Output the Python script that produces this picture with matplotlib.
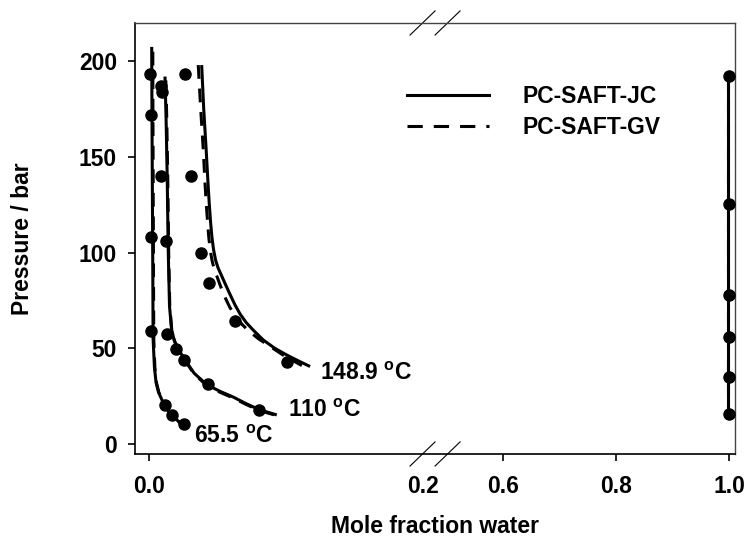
import numpy as np
import matplotlib
matplotlib.use("Agg")
import matplotlib.pyplot as plt
from matplotlib.lines import Line2D
from matplotlib.scale import FuncScale

# ---- fonts: bold Arial look-alike everywhere, also inside mathtext ----
plt.rcParams["font.family"] = ["Liberation Sans", "DejaVu Sans"]
plt.rcParams["font.weight"] = "bold"
plt.rcParams["axes.labelweight"] = "bold"
plt.rcParams["font.size"] = 16.5
plt.rcParams["mathtext.fontset"] = "custom"
plt.rcParams["mathtext.rm"] = "Liberation Sans:bold"
plt.rcParams["mathtext.it"] = "Liberation Sans:bold"
plt.rcParams["mathtext.bf"] = "Liberation Sans:bold"

# ---- experimental points (mole fraction water, pressure / bar) ----
x_exp_655 = [0.0007, 0.0015, 0.0015, 0.0015, 0.0117, 0.0166, 0.0258]
p_exp_655 = [193.6, 171.8, 108.0, 59.2, 20.4, 15.1, 10.4]

x_exp_110 = [0.0085, 0.0092, 0.0088, 0.0124, 0.0129, 0.0195, 0.0258, 0.0429, 0.0804]
p_exp_110 = [187.0, 184.0, 140.0, 106.0, 57.3, 49.6, 43.9, 31.2, 17.8]

x_exp_149 = [0.0263, 0.0305, 0.0380, 0.0440, 0.0630, 0.1007]
p_exp_149 = [193.6, 140.0, 99.6, 84.2, 64.4, 43.0]

x_exp_water = [1.0, 1.0, 1.0, 1.0, 1.0, 1.0]
p_exp_water = [192.5, 125.3, 77.8, 56.0, 35.0, 15.5]

# ---- PC-SAFT-JC (solid) ----
x_jc_655 = [0.0020, 0.0022, 0.0025, 0.0028, 0.0030, 0.0040, 0.0052, 0.0070,
            0.0095, 0.0117, 0.0166, 0.0210, 0.0262]
p_jc_655 = [207.5, 170.0, 130.0, 90.0, 55.0, 40.0, 32.0, 27.0,
            23.0, 20.3, 15.2, 12.2, 9.0]

x_jc_110 = [0.0117, 0.0125, 0.0133, 0.0141, 0.0150, 0.0165, 0.0185, 0.0210,
            0.0263, 0.0330, 0.0422, 0.0520, 0.0617, 0.0712, 0.0812, 0.0934]
p_jc_110 = [192.0, 170.0, 140.0, 100.0, 72.0, 60.0, 54.0, 50.0,
            44.0, 37.0, 31.0, 27.5, 24.5, 21.0, 17.8, 15.2]

x_jc_149 = [0.0385, 0.0400, 0.0418, 0.0430, 0.0440, 0.0450, 0.0460, 0.0472,
            0.0487, 0.0505, 0.0527, 0.0555, 0.0590, 0.0630, 0.0665, 0.0710,
            0.0762, 0.0836, 0.0920, 0.1007, 0.1090, 0.1177]
p_jc_149 = [198.0, 175.0, 153.5, 138.0, 126.0, 116.0, 108.0, 101.5,
            96.0, 92.0, 88.5, 84.0, 78.5, 72.5, 68.0, 63.5,
            59.5, 54.3, 50.0, 46.5, 43.5, 40.5]

x_jc_water = [0.999, 0.999]
p_jc_water = [192.5, 15.5]

# ---- PC-SAFT-GV (dashed) ----
x_gv_655 = [0.0028, 0.0029, 0.0031, 0.0033, 0.0035, 0.0043, 0.0055, 0.0072,
            0.0096, 0.0117, 0.0166, 0.0210, 0.0262]
p_gv_655 = [205.0, 170.0, 130.0, 90.0, 55.0, 40.0, 32.0, 27.0,
            23.0, 20.1, 15.0, 12.0, 8.8]

x_gv_110 = [0.0123, 0.0130, 0.0137, 0.0144, 0.0152, 0.0166, 0.0186, 0.0210,
            0.0263, 0.0330, 0.0422, 0.0520, 0.0617, 0.0712, 0.0812, 0.0930]
p_gv_110 = [190.0, 170.0, 140.0, 100.0, 72.0, 60.0, 54.0, 49.6,
            43.6, 36.6, 30.6, 27.0, 24.0, 20.6, 17.4, 14.9]

x_gv_149 = [0.0360, 0.0378, 0.0397, 0.0408, 0.0418, 0.0428, 0.0437, 0.0448,
            0.0462, 0.0478, 0.0497, 0.0520, 0.0550, 0.0590, 0.0630, 0.0680,
            0.0730, 0.0800, 0.0885, 0.0990, 0.1117]
p_gv_149 = [198.0, 175.0, 153.5, 138.0, 126.0, 116.0, 108.0, 101.0,
            95.5, 91.0, 87.5, 83.0, 77.5, 71.5, 67.0, 62.5,
            59.0, 55.0, 51.0, 46.0, 41.0]

x_gv_water = [0.999, 0.999]
p_gv_water = [192.5, 15.5]

temp_labels = ["65.5 $^{o}$C", "110 $^{o}$C", "148.9 $^{o}$C"]
temp_label_x = [0.0331, 0.1019, 0.1253]
temp_label_p = [0.5, 14.3, 33.4]

# ---- broken x axis: 0..0.209 then 0.48..1.01, right part compressed ----
XB0, XB1, K = 0.209, 0.48, 0.413


def fwd(x):
    x = np.asarray(x, dtype=float)
    return np.where(x <= XB0, x, np.where(x >= XB1, XB0 + (x - XB1) * K, XB0))


def inv(y):
    y = np.asarray(y, dtype=float)
    return np.where(y <= XB0, y, XB1 + (y - XB0) / K)


fig = plt.figure(figsize=(7.48, 5.37), dpi=100)
ax = fig.add_axes([0.1805, 0.1546, 0.8021, 0.8026])
ax.set_xscale(FuncScale(ax, (fwd, inv)))
ax.set_xlim(-0.0102, 1.0106)
ax.set_ylim(-5.2, 220)

lw = 2.2
dash = (4.5, 3.2)
curves = [(x_jc_655, p_jc_655, x_gv_655, p_gv_655),
          (x_jc_110, p_jc_110, x_gv_110, p_gv_110),
          (x_jc_149, p_jc_149, x_gv_149, p_gv_149),
          (x_jc_water, p_jc_water, x_gv_water, p_gv_water)]
for xj, pj, xg, pg in curves:
    ax.plot(xj, pj, color="black", lw=lw, solid_capstyle="butt",
            solid_joinstyle="round")
    ax.plot(xg, pg, color="black", lw=lw, dashes=dash)

for xe, pe in [(x_exp_655, p_exp_655), (x_exp_110, p_exp_110),
               (x_exp_149, p_exp_149), (x_exp_water, p_exp_water)]:
    ax.plot(xe, pe, "o", color="black", ms=8, clip_on=False, zorder=5)

for txt, tx, tp in zip(temp_labels, temp_label_x, temp_label_p):
    ax.text(tx, tp, txt, ha="left", va="baseline", fontsize=16.5,
            fontweight="bold")

# ---- ticks ----
ax.set_xticks([0.0, 0.6, 0.8, 1.0])
ax.set_xticklabels(["0.0", "0.6", "0.8", "1.0"])
ax.set_xticks([0.2], minor=True)
ax.set_xticklabels(["0.2"], minor=True)
ax.set_yticks([0, 50, 100, 150, 200])
ax.tick_params(axis="both", which="major", direction="out", length=5,
               width=1.2, color="black")
ax.tick_params(axis="x", which="major", pad=10)
ax.tick_params(axis="x", which="minor", length=0, pad=15)
ax.tick_params(axis="y", which="major", pad=8)
ax.tick_params(top=False, right=False)

for side in ["left", "bottom"]:
    ax.spines[side].set_color("black")
    ax.spines[side].set_linewidth(1.2)
for side in ["top", "right"]:
    ax.spines[side].set_color("#444444")
    ax.spines[side].set_linewidth(1.0)

# ---- break marks on top and bottom spines ----
x_lo, x_hi = ax.get_xlim()
bx = (fwd(XB0) - fwd(x_lo)) / (fwd(x_hi) - fwd(x_lo))
dx, dy = 0.0417, 0.028
for y0 in (0.0, 1.0):
    for x0 in (bx - dx, bx):
        ax.plot([x0, x0 + dx], [y0 - dy, y0 + dy], transform=ax.transAxes,
                color="black", lw=0.8, clip_on=False)

ax.set_xlabel("Mole fraction water", va="center")
ax.xaxis.set_label_coords(0.5, -0.169)
ax.set_ylabel("Pressure / bar", va="center")
ax.yaxis.set_label_coords(-0.188, 0.5)

handles = [Line2D([], [], color="black", lw=lw),
           Line2D([], [], color="black", lw=lw, dashes=(5, 3.6))]
ax.legend(handles, ["PC-SAFT-JC", "PC-SAFT-GV"], loc="upper left",
          bbox_to_anchor=(0.453, 0.857), frameon=False, handlelength=3.6,
          handletextpad=1.45, labelspacing=0.38, borderpad=0,
          borderaxespad=0)

fig.savefig("out.png", dpi=100)
